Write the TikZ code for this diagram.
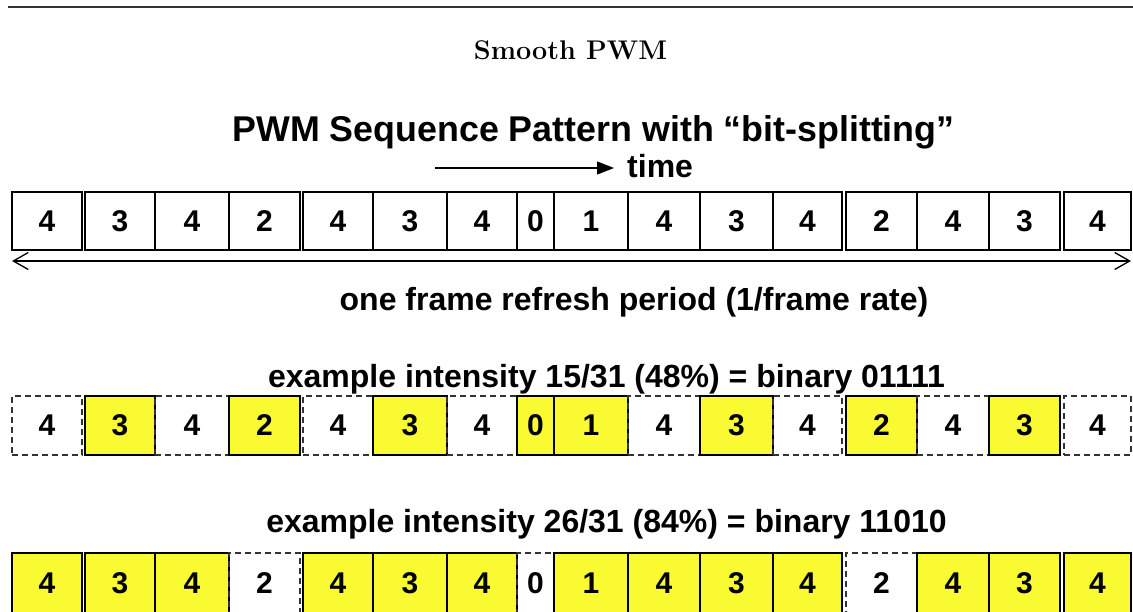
\documentclass[tikz,border=0pt]{standalone}
\usepackage{fontspec}
\newfontfamily\arial{Liberation Sans}
\usetikzlibrary{arrows.meta}
\definecolor{pwmyellow}{RGB}{250,250,50}
\tikzset{
  cell/.style={rectangle, inner sep=0pt, line width=1.4pt, font=\arial\bfseries\fontsize{30}{34}\selectfont, text=black},
  boxS/.style={cell, draw=black},
  boxY/.style={cell, draw=black, fill=pwmyellow},
  boxW/.style={cell, draw=black!80, line width=1.3pt, dash pattern=on 6pt off 4pt},
  lbl/.style={inner sep=0pt, font=\arial\bfseries\fontsize{32}{36}\selectfont},
  ttl/.style={inner sep=0pt, font=\arial\bfseries\fontsize{35.8}{40}\selectfont},
}
\begin{document}
\begin{tikzpicture}[x=1pt,y=-1pt]
\useasboundingbox (0,0) rectangle (1133,611);
\clip (0,0) rectangle (1133,611);
% top rule
\coordinate (ruleL) at (8,7);
\coordinate (ruleR) at (1133,7);
\draw[line width=1.2pt, black!80] (ruleL) -- (ruleR);
\node[inner sep=0pt, anchor=base, font=\bfseries\fontsize{27}{30}\selectfont] (head) at (570.5,59) {Smooth PWM};
\node[ttl, anchor=base] (title) at (593.5,141) {PWM Sequence Pattern with “bit-splitting”};
% time arrow
\node[lbl, anchor=base west] (time) at (627,177) {time};
\coordinate (tstart) at (435,168);
\coordinate (tend) at (614,168);
\draw[line width=1.3pt, -{Triangle[length=17pt,width=13pt]}] (tstart) -- (tend);
% boxes
\foreach \i/\l/\r/\d/\sa/\sb/\sc in {
  1/12/82/4/boxS/boxW/boxY,
  2/85/155/3/boxS/boxY/boxY,
  3/155/229/4/boxS/boxW/boxY,
  4/229/300/2/boxS/boxY/boxW,
  5/303/373/4/boxS/boxW/boxY,
  6/373/447/3/boxS/boxY/boxY,
  7/447/517/4/boxS/boxW/boxY,
  8/517/554/0/boxS/boxY/boxW,
  9/554/628/1/boxS/boxY/boxY,
  10/628/700/4/boxS/boxW/boxY,
  11/700/773/3/boxS/boxY/boxY,
  12/773/842/4/boxS/boxW/boxY,
  13/846/917/2/boxS/boxY/boxW,
  14/917/989/4/boxS/boxW/boxY,
  15/989/1060/3/boxS/boxY/boxY,
  16/1064/1131/4/boxS/boxW/boxY}{
  \pgfmathsetmacro{\cx}{(\l+\r)/2}
  \pgfmathsetmacro{\w}{\r-\l}
  \node[\sa, minimum width=\w pt, minimum height=58pt] (a\i) at (\cx,221) {\d};
  \node[\sb, minimum width=\w pt, minimum height=59pt] (b\i) at (\cx,425.5) {\d};
  \node[\sc, minimum width=\w pt, minimum height=60pt] (c\i) at (\cx,583) {\d};
}
% frame arrow
\coordinate (fL) at (12,261);
\coordinate (fR) at (1131,261);
\draw[line width=1.3pt, {Straight Barb[length=15pt,width=17pt,line width=1.3pt]}-{Straight Barb[length=15pt,width=17pt,line width=1.3pt]}] (fL) -- (fR);
\node[lbl, anchor=base] (frame) at (634,310) {one frame refresh period (1/frame rate)};
\node[lbl, anchor=base] (ex1) at (606.5,387) {example intensity 15/31 (48\%) = binary 01111};
\node[lbl, anchor=base] (ex2) at (606.5,532) {example intensity 26/31 (84\%) = binary 11010};
\end{tikzpicture}
\end{document}
